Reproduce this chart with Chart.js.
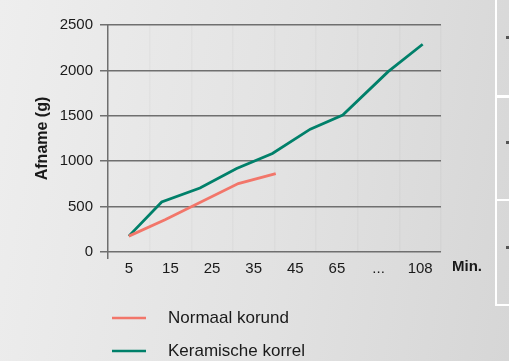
<!DOCTYPE html>
<html>
<head>
<meta charset="utf-8">
<script src="https://cdn.jsdelivr.net/npm/chart.js@4"></script>
<style>
  html, body { margin: 0; padding: 0; }
  body {
    width: 509px; height: 361px; overflow: hidden; position: relative;
    background: linear-gradient(100deg, #eeeeee 0%, #e2e2e2 55%, #d6d6d6 100%);
  }
  #wrap { position: absolute; left: 0; top: 0; width: 509px; height: 361px; }
  .panel { position: absolute; left: 495px; width: 30px; border: 2px solid #fff; border-right: none; }
  .mark { position: absolute; left: 506px; width: 4px; height: 3px; background: #555; }
</style>
</head>
<body>
<div class="panel" style="top:-3px; height:97px;"></div>
<div class="panel" style="top:95px; height:102px;"></div>
<div class="panel" style="top:199px; height:103px;"></div>
<div class="mark" style="top:36px;"></div>
<div class="mark" style="top:141px;"></div>
<div class="mark" style="top:246px;"></div>
<div id="wrap"><canvas id="chart"></canvas></div>
<script>
// ── Data ─────────────────────────────────────────────────────────
const categories = ['5', '15', '25', '35', '45', '65', '...', '108'];
const seriesNames = ['Normaal korund', 'Keramische korrel'];

// x given in category steps (0 = "5", 7 = "108")
const normaalX = [0, 0.87, 2.63, 3.53];
const normaalY = [175, 356, 754, 864];
const keramischX = [0, 0.79, 1.71, 2.59, 3.45, 4.36, 5.14, 6.23, 7.06];
const keramischY = [175, 551, 705, 919, 1085, 1353, 1508, 1986, 2288];

const yMax = 2500;
const yStep = 500;

const COLORS = { normaal: '#f2766a', keramisch: '#00806a', grid: '#6f6f6f', text: '#1a1a1a' };

Chart.defaults.font.family = "'Liberation Sans', Arial, sans-serif";
Chart.defaults.font.size = 15;
Chart.defaults.color = COLORS.text;

const toPoints = (xs, ys) => xs.map((x, i) => ({ x, y: ys[i] }));

// ── Extras: "Min." label and stacked legend ──────────────────────
const extras = {
  id: 'extras',
  afterDraw(chart) {
    const c = chart.ctx;
    const area = chart.chartArea;
    c.save();
    c.fillStyle = COLORS.text;
    c.font = "bold 15px 'Liberation Sans', Arial, sans-serif";
    c.textBaseline = 'middle';
    c.textAlign = 'left';
    c.fillText('Min.', area.right + 11, 267);

    c.font = "17px 'Liberation Sans', Arial, sans-serif";
    chart.data.datasets.forEach((ds, i) => {
      const y = 318 + i * 33;
      c.strokeStyle = ds.borderColor;
      c.lineWidth = 2.6;
      c.beginPath();
      c.moveTo(112, y);
      c.lineTo(146, y);
      c.stroke();
      c.fillText(ds.label, 168, y);
    });
    c.restore();
  }
};

new Chart(document.getElementById('chart'), {
  type: 'line',
  data: {
    labels: categories,
    datasets: [
      {
        label: seriesNames[0],
        data: toPoints(normaalX, normaalY),
        borderColor: COLORS.normaal,
        borderWidth: 2.8,
        pointRadius: 0,
        tension: 0,
        xAxisID: 'xv',
      },
      {
        label: seriesNames[1],
        data: toPoints(keramischX, keramischY),
        borderColor: COLORS.keramisch,
        borderWidth: 2.8,
        pointRadius: 0,
        tension: 0,
        xAxisID: 'xv',
      }
    ]
  },
  options: {
    responsive: true,
    maintainAspectRatio: false,
    animation: false,
    layout: { padding: { top: 25, right: 68, bottom: 0, left: 0 } },
    plugins: { legend: { display: false }, tooltip: { enabled: false } },
    scales: {
      x: {
        type: 'category',
        offset: true,
        grid: {
          offset: true,
          tickLength: 7,
          lineWidth: 1.5,
          color: (ctx) => (ctx.index === 0 || ctx.index === categories.length) ? COLORS.grid : 'rgba(0,0,0,0.025)',
          tickColor: (ctx) => (ctx.index === 0 || ctx.index === categories.length) ? COLORS.grid : 'rgba(0,0,0,0)',
        },
        border: { display: false },
        ticks: { padding: 1, maxRotation: 0, autoSkip: false },
        afterFit: (s) => { s.height = 109; },
      },
      xv: {
        type: 'linear',
        display: false,
        min: -0.5,
        max: categories.length - 0.5,
      },
      y: {
        min: 0,
        max: yMax,
        grid: { color: COLORS.grid, lineWidth: 1.5, tickLength: 8 },
        border: { display: false },
        ticks: { stepSize: yStep, padding: 7, callback: (v) => String(v) },
        title: {
          display: true,
          text: 'Afname (g)',
          font: { size: 16, weight: 'bold' },
          padding: { top: 33, bottom: 0 },
        },
        afterFit: (s) => { s.width = 108; },
      },
    },
  },
  plugins: [extras],
});
</script>
</body>
</html>
